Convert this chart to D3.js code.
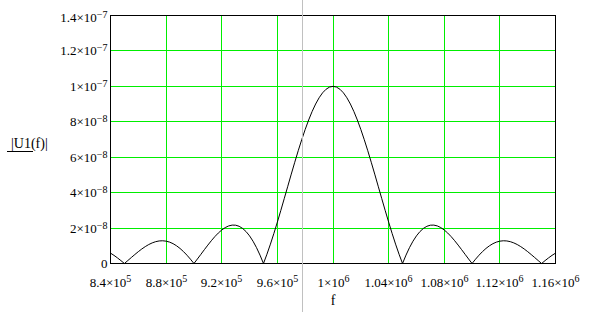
<!DOCTYPE html>
<html>
<head>
<meta charset="utf-8">
<script src="https://cdn.jsdelivr.net/npm/d3@7"></script>
<style>
  body { margin: 0; background: #fff; }
  svg { display: block; font-family: "Liberation Serif", "Times New Roman", serif; }
  .grid line { stroke: #00ee00; shape-rendering: crispEdges; }
  .grid path { display: none; }
  .tick text { font-size: 13px; fill: #000; font-family: "Liberation Serif", "Times New Roman", serif; }
</style>
</head>
<body>
<div id="chart"></div>
<script>
// Data: frequency (kHz) and |U1(f)| (units of 1e-8)
const freqKHz = [
  840, 842.5, 845, 847.5, 850, 852.5, 855, 857.5, 860, 862.5, 865, 867.5, 870, 872.5, 875, 877.5,
  880, 882.5, 885, 887.5, 890, 892.5, 895, 897.5, 900, 902.5, 905, 907.5, 910, 912.5, 915, 917.5,
  920, 922.5, 925, 927.5, 930, 932.5, 935, 937.5, 940, 942.5, 945, 947.5, 950, 952.5, 955, 957.5,
  960, 962.5, 965, 967.5, 970, 972.5, 975, 977.5, 980, 982.5, 985, 987.5, 990, 992.5, 995, 997.5,
  1000,
  1002.5, 1005, 1007.5, 1010, 1012.5, 1015, 1017.5, 1020, 1022.5, 1025, 1027.5, 1030, 1032.5, 1035, 1037.5, 1040,
  1042.5, 1045, 1047.5, 1050, 1052.5, 1055, 1057.5, 1060, 1062.5, 1065, 1067.5, 1070, 1072.5, 1075, 1077.5, 1080,
  1082.5, 1085, 1087.5, 1090, 1092.5, 1095, 1097.5, 1100, 1102.5, 1105, 1107.5, 1110, 1112.5, 1115, 1117.5, 1120,
  1122.5, 1125, 1127.5, 1130, 1132.5, 1135, 1137.5, 1140, 1142.5, 1145, 1147.5, 1150, 1152.5, 1155, 1157.5, 1160
];
const magnitude = [
  0.585, 0.459, 0.317, 0.163, 0, 0.169, 0.339, 0.507, 0.668, 0.819, 0.954, 1.070, 1.164, 1.233, 1.273, 1.283,
  1.261, 1.207, 1.120, 1.000, 0.850, 0.672, 0.468, 0.243, 0, 0.255, 0.518, 0.781, 1.039, 1.286, 1.515, 1.719,
  1.892, 2.028, 2.122, 2.168, 2.162, 2.101, 1.981, 1.801, 1.559, 1.257, 0.894, 0.474, 0, 0.524, 1.093, 1.700,
  2.339, 3.001, 3.679, 4.363, 5.046, 5.716, 6.366, 6.987, 7.568, 8.103, 8.584, 9.003, 9.355, 9.634, 9.836, 9.959,
  10,
  9.959, 9.836, 9.634, 9.355, 9.003, 8.584, 8.103, 7.568, 6.987, 6.366, 5.716, 5.046, 4.363, 3.679, 3.001, 2.339,
  1.700, 1.093, 0.524, 0, 0.474, 0.894, 1.257, 1.559, 1.801, 1.981, 2.101, 2.162, 2.168, 2.122, 2.028, 1.892,
  1.719, 1.515, 1.286, 1.039, 0.781, 0.518, 0.255, 0, 0.243, 0.468, 0.672, 0.850, 1.000, 1.120, 1.207, 1.261,
  1.283, 1.273, 1.233, 1.164, 1.070, 0.954, 0.819, 0.668, 0.507, 0.339, 0.169, 0, 0.163, 0.317, 0.459, 0.585
];

// Tick values and labels (mantissa x 10^exponent)
const xTicks = [840, 880, 920, 960, 1000, 1040, 1080, 1120, 1160];
const xMant = ["8.4", "8.8", "9.2", "9.6", "1", "1.04", "1.08", "1.12", "1.16"];
const xExp = ["5", "5", "5", "5", "6", "6", "6", "6", "6"];
const yTicks = [0, 2, 4, 6, 8, 10, 12, 14];
const yMant = ["0", "2", "4", "6", "8", "1", "1.2", "1.4"];
const yExp = ["", "-8", "-8", "-8", "-8", "-7", "-7", "-7"];

const data = freqKHz.map((f, i) => ({f: f, v: magnitude[i]}));

///////////////////////////////////////////////////////////////////////////////
// Layout
const W = 591, H = 312;
const margin = {top: 15, left: 110};
const width = 445, height = 248;

const svg = d3.select("#chart").append("svg")
  .attr("width", W)
  .attr("height", H);

const g = svg.append("g")
  .attr("transform", `translate(${margin.left + 0.5}, ${margin.top + 0.5})`);

const x = d3.scaleLinear().domain([840, 1160]).range([0, width]);
const y = d3.scaleLinear().domain([0, 14]).range([height, 0]);

// label with superscript exponent
function supLabel(sel, mant, exp, dySup) {
  sel.each(function(d, i) {
    const t = d3.select(this).text(null);
    t.append("tspan").text(exp[i] ? mant[i] + "\u00d710" : mant[i]);
    if (exp[i]) {
      t.append("tspan").attr("dy", dySup).style("font-size", "10px").text(exp[i].replace("-", "\u2212"));
    }
  });
}

///////////////////////////////////////////////////////////////////////////////
// Grid + tick labels
const xAxis = g.append("g")
  .attr("class", "grid")
  .attr("transform", `translate(0, ${height})`)
  .call(d3.axisBottom(x).tickValues(xTicks).tickSize(-height).tickSizeOuter(0).offset(0));
xAxis.selectAll(".tick").attr("transform", d => `translate(${Math.round(x(d))},0)`);
xAxis.selectAll(".tick text")
  .attr("y", 23)
  .attr("dy", 0)
  .call(supLabel, xMant, xExp, -5);

const yAxis = g.append("g")
  .attr("class", "grid")
  .call(d3.axisLeft(y).tickValues(yTicks).tickSize(-width).tickSizeOuter(0).tickPadding(3).offset(0));
yAxis.selectAll(".tick").attr("transform", d => `translate(0,${Math.round(y(d))})`);
yAxis.selectAll(".tick text")
  .attr("dy", (d, i) => i === yTicks.length - 1 ? "0.52em" : "0.38em")
  .call(supLabel, yMant, yExp, -4);

// frame takes the place of the outer grid lines
xAxis.selectAll(".tick line").filter((d, i) => i === 0 || i === xTicks.length - 1).remove();
yAxis.selectAll(".tick line").filter((d, i) => i === 0 || i === yTicks.length - 1).remove();

g.append("rect")
  .attr("width", width)
  .attr("height", height)
  .style("fill", "none")
  .style("stroke", "#000")
  .style("shape-rendering", "crispEdges");

// grey divider line
svg.append("line")
  .attr("x1", 302.5).attr("x2", 302.5)
  .attr("y1", 0).attr("y2", H)
  .style("stroke", "#c0c0c0")
  .style("shape-rendering", "crispEdges");

///////////////////////////////////////////////////////////////////////////////
// Curve
const line = d3.line().x(d => x(d.f)).y(d => y(d.v));
g.append("path")
  .datum(data)
  .attr("d", line)
  .style("fill", "none")
  .style("stroke", "#000")
  .style("stroke-width", 1);

///////////////////////////////////////////////////////////////////////////////
// Axis titles
svg.append("text")
  .attr("x", 11)
  .attr("y", 148)
  .style("font-size", "14px")
  .text("|U1(f)|");
svg.append("line")
  .attr("x1", 7).attr("x2", 33)
  .attr("y1", 151.5).attr("y2", 151.5)
  .style("stroke", "#000");

svg.append("text")
  .attr("x", 333)
  .attr("y", 305)
  .style("font-size", "14px")
  .style("text-anchor", "middle")
  .text("f");
</script>
</body>
</html>
